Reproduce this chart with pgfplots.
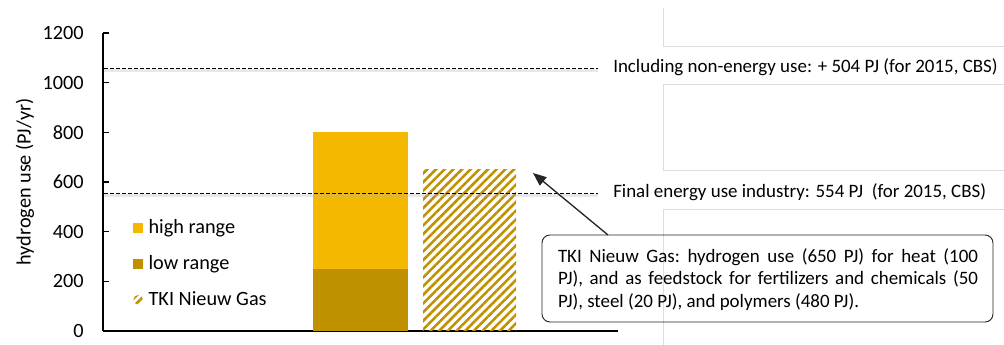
\documentclass[border=0pt]{standalone}
\usepackage{fontspec}
\setmainfont{Carlito}
\usepackage{pgfplots}
\pgfplotsset{compat=1.18}
\usetikzlibrary{patterns.meta,arrows.meta}

\definecolor{highrange}{HTML}{F5B800}
\definecolor{lowrange}{HTML}{BF9000}
\definecolor{boxline}{HTML}{DDDDDD}

\newcommand{\mainsize}{\fontsize{15.2}{18}\selectfont}
\newcommand{\sidesize}{\fontsize{14.2}{17}\selectfont}
\newcommand{\notesize}{\fontsize{14.2}{16.9}\selectfont}

\begin{document}
\begin{tikzpicture}
\useasboundingbox (0,0) rectangle (753pt,258.75pt);
\begin{axis}[
  at={(77.25pt,10.5pt)}, anchor=south west,
  scale only axis, width=386.25pt, height=223.5pt,
  xmin=103, xmax=618, ymin=0, ymax=1200,
  clip=false,
  axis x line=bottom, axis y line=left,
  axis line style={-, line width=0.9pt, black},
  xtick=\empty,
  ytick={0,200,...,1200},
  tick align=inside, major tick length=4.5pt,
  tick style={line width=0.9pt, black},
  /pgf/number format/assume math mode=true,
  /pgf/number format/1000 sep={},
  tick label style={font=\mainsize},
  yticklabel style={xshift=-11pt},
  ylabel={hydrogen use (PJ/yr)},
  ylabel style={font=\mainsize, at={(axis description cs:-0.1515,0.5)}, anchor=center},
  legend style={at={(axis cs:133,460)}, anchor=north west, draw=none, fill=none,
    font=\mainsize, row sep=11pt, inner sep=0pt,
    nodes={inner xsep=4pt}},
  legend cell align=left,
]
% range of the hydrogen demand
\addplot[ybar, bar width=95, bar shift=0pt, fill=highrange, draw=none,
  legend image code/.code={\fill[highrange] (0pt,-3.75pt) rectangle (7.5pt,3.75pt);}]
  coordinates {(360.5,800)};
\addlegendentry{high range}
\addplot[ybar, bar width=95, bar shift=0pt, fill=lowrange, draw=none,
  legend image code/.code={\fill[lowrange] (0pt,-3.75pt) rectangle (7.5pt,3.75pt);}]
  coordinates {(360.5,250)};
\addlegendentry{low range}
% TKI Nieuw Gas estimate
\addplot[ybar, bar width=93, bar shift=0pt, draw=none,
  pattern={Lines[angle=45,distance=4.6pt,line width=1.9pt]}, pattern color=lowrange,
  legend image code/.code={\fill[pattern={Lines[angle=45,distance=4.2pt,line width=1.9pt]}, pattern color=lowrange] (3.75pt,0pt) circle[radius=3.6pt];}]
  coordinates {(469.5,650)};
\addlegendentry{TKI Nieuw Gas}

% reference levels with a soft shadow
\draw[black!30, opacity=0.3, line width=2.4pt, transform canvas={yshift=-1.6pt}]
  (axis cs:104,1058) -- (axis cs:598,1058);
\draw[black, line width=0.85pt, dash pattern=on 3pt off 1.5pt]
  (axis cs:104,1058) -- (axis cs:598,1058);
\draw[black!30, opacity=0.3, line width=2.4pt, transform canvas={yshift=-1.6pt}]
  (axis cs:104,554) -- (axis cs:598,554);
\draw[black, line width=0.85pt, dash pattern=on 3pt off 1.5pt]
  (axis cs:104,554) -- (axis cs:598,554);

% text box outlines
\draw[boxline, line width=0.5pt] (axis cs:663,1300.7) -- (axis cs:663,1147.7) -- (axis cs:1004,1147.7);
\draw[boxline, line width=0.5pt] (axis cs:1004,994.7) -- (axis cs:663,994.7) -- (axis cs:663,648.3) -- (axis cs:1004,648.3);
\draw[boxline, line width=0.5pt] (axis cs:1004,491.3) -- (axis cs:663,491.3) -- (axis cs:663,-56.4);

\node[anchor=west, inner sep=0pt, font=\sidesize] at (axis cs:613,1062)
  {Including non-energy use: + 504 PJ (for 2015, CBS)};
\node[anchor=west, inner sep=0pt, font=\sidesize] at (axis cs:613,558)
  {Final energy use industry: 554 PJ\ \ (for 2015, CBS)};

% callout
\draw[black!85, line width=1pt, -{Triangle[length=10pt,width=8pt]}]
  (axis cs:608,386.6) -- (axis cs:533,636.3);
\draw[black!85, line width=0.7pt, rounded corners=6pt]
  (axis cs:542,386.6) rectangle (axis cs:993,36.2);
\node[text width=315pt, align=justify, inner sep=0pt, font=\notesize] at (axis cs:768,207.4)
  {\frenchspacing TKI Nieuw Gas: hydrogen use (650 PJ) for heat (100\linebreak
   PJ), and as feedstock for fertilizers and chemicals (50\linebreak
   PJ), steel (20 PJ), and polymers (480 PJ).};
\end{axis}
\end{tikzpicture}
\end{document}
